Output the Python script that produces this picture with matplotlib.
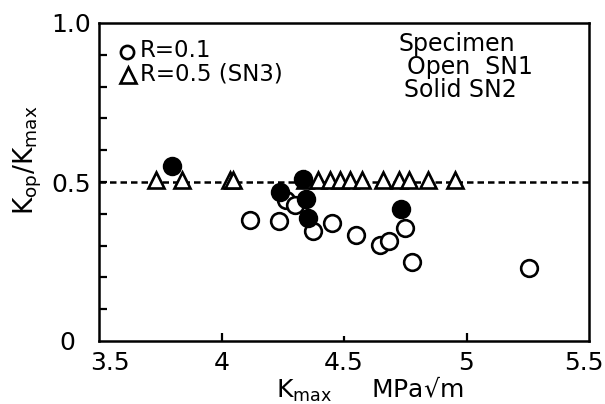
import numpy as np
import matplotlib
matplotlib.use('Agg')
import matplotlib.pyplot as plt
import matplotlib.transforms as mtransforms

'''
K_op/K_max against K_max for the two stress ratios
'''

plt.rcParams['font.family'] = ['DejaVu Sans']
plt.rcParams['mathtext.fontset'] = 'dejavusans'

# R=0.1, open symbols (SN1)
open_kmax = [4.116, 4.235, 4.265, 4.302, 4.373, 4.451, 4.551, 4.647, 4.682, 4.750, 4.778, 5.256]
open_ratio = [0.380, 0.377, 0.442, 0.427, 0.347, 0.370, 0.333, 0.301, 0.316, 0.354, 0.248, 0.231]

# R=0.1, solid symbols (SN2)
solid_kmax = [3.798, 4.238, 4.333, 4.346, 4.352, 4.731]
solid_ratio = [0.551, 0.468, 0.508, 0.448, 0.386, 0.414]

# R=0.5 (SN3)
tri_kmax = [3.733, 3.839, 4.036, 4.045, 4.341, 4.394, 4.443, 4.484, 4.524, 4.573,
            4.659, 4.724, 4.765, 4.843, 4.953]
tri_ratio = [0.505] * len(tri_kmax)

ref_level = 0.5

x_ticks = [3.5, 4, 4.5, 5, 5.5]
x_labels = ['3.5', '4', '4.5', '5', '5.5']
y_ticks = [0, 0.5, 1.0]
y_labels = ['0', '0.5', '1.0']

fig = plt.figure(figsize=(6.05, 4.04), dpi=100)
ax = fig.add_axes([99 / 605, 1 - 341 / 404, 490 / 605, 318 / 404])

ax.axhline(ref_level, color='black', lw=1.8, dashes=(2.6, 1.6), zorder=1)

ax.plot(tri_kmax, tri_ratio, linestyle='none', marker='^', ms=11.5, mew=1.9,
        mec='black', mfc='white', zorder=3)
ax.plot(open_kmax, open_ratio, linestyle='none', marker='o', ms=12, mew=1.9,
        mec='black', mfc='white', zorder=4)
ax.plot(solid_kmax, solid_ratio, linestyle='none', marker='o', ms=12.5, mew=1.5,
        mec='black', mfc='black', zorder=5)

ax.set_xlim(3.5, 5.5)
ax.set_ylim(0, 1.0)

for side in ['left', 'right', 'top', 'bottom']:
    ax.spines[side].set_linewidth(1.8)

ax.set_xticks(x_ticks)
ax.set_xticklabels(x_labels, fontsize=18)
ax.set_yticks(y_ticks)
ax.set_yticklabels(y_labels, fontsize=18)
ax.set_yticks(np.arange(0.1, 1.0, 0.1), minor=True)
ax.tick_params(axis='both', which='both', direction='in', length=6, width=1.6)
ax.tick_params(axis='x', pad=7)
ax.tick_params(axis='y', pad=6)

# shorter mark at 4.5, none at the corners
ax.xaxis.get_major_ticks()[2].tick1line.set_markersize(3.5)
ax.xaxis.get_major_ticks()[0].tick1line.set_visible(False)
ax.xaxis.get_major_ticks()[4].tick1line.set_visible(False)
ax.yaxis.get_major_ticks()[0].tick1line.set_visible(False)
ax.yaxis.get_major_ticks()[2].tick1line.set_visible(False)

# nudge the end labels
def shift(label, dx, dy):
    off = mtransforms.ScaledTranslation(dx / 72, dy / 72, fig.dpi_scale_trans)
    label.set_transform(label.get_transform() + off)

xl = ax.get_xticklabels()
shift(xl[0], 8, 0)
shift(xl[4], -4, 0)
yl = ax.get_yticklabels()
shift(yl[0], -11, 0)

fig.text(28 / 605, 1 - 160 / 404, r'$\mathregular{K_{op}/K_{max}}$', rotation=90,
         ha='center', va='center', fontsize=19)
fig.text(370 / 605, 1 - 389 / 404, r'$\mathregular{K_{max}}$     MPa√m',
         ha='center', va='center', fontsize=18)

# key in the upper left corner
ax.plot([0.058], [0.910], transform=ax.transAxes, marker='o', ms=9.5, mew=1.9,
        mec='black', mfc='white', clip_on=False)
ax.plot([0.060], [0.838], transform=ax.transAxes, marker='^', ms=11, mew=1.9,
        mec='black', mfc='white', clip_on=False)
ax.text(0.084, 0.912, 'R=0.1', transform=ax.transAxes, fontsize=16.5, va='center')
ax.text(0.084, 0.840, 'R=0.5 (SN3)', transform=ax.transAxes, fontsize=16.5, va='center')

ax.text(0.612, 0.935, 'Specimen', transform=ax.transAxes, fontsize=17, va='center')
ax.text(0.628, 0.862, 'Open  SN1', transform=ax.transAxes, fontsize=17, va='center')
ax.text(0.622, 0.79, 'Solid SN2', transform=ax.transAxes, fontsize=17, va='center')

fig.savefig('out.png', dpi=100)
